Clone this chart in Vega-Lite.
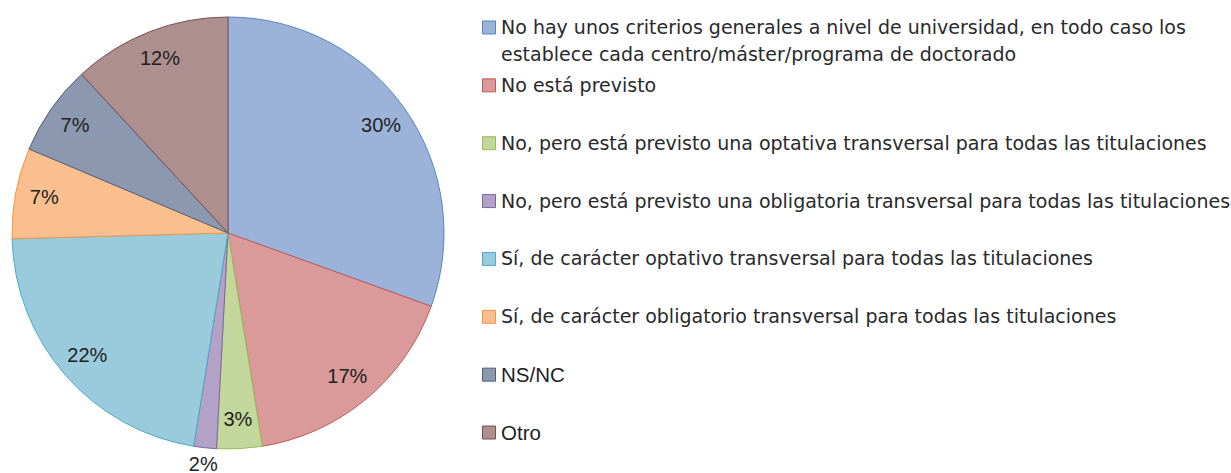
{
  "$schema": "https://vega.github.io/schema/vega-lite/v6.json",
  "padding": 0,
  "background": "white",
  "config": {"view": {"stroke": null}, "concat": {"spacing": 24}},
  "datasets": {
    "d": [
      {"rank": 1, "cat": "A", "n": 18, "pct": "30%", "label": ["No hay unos criterios generales a nivel de universidad, en todo caso los", "establece cada centro/máster/programa de doctorado"]},
      {"rank": 2, "cat": "B", "n": 10, "pct": "17%", "label": "No está previsto"},
      {"rank": 3, "cat": "C", "n": 2, "pct": "3%", "label": "No, pero está previsto una optativa transversal para todas las titulaciones"},
      {"rank": 4, "cat": "D", "n": 1, "pct": "2%", "label": "No, pero está previsto una obligatoria transversal para todas las titulaciones"},
      {"rank": 5, "cat": "E", "n": 13, "pct": "22%", "label": "Sí, de carácter optativo transversal para todas las titulaciones"},
      {"rank": 6, "cat": "F", "n": 4, "pct": "7%", "label": "Sí, de carácter obligatorio transversal para todas las titulaciones"},
      {"rank": 7, "cat": "G", "n": 4, "pct": "7%", "label": "NS/NC"},
      {"rank": 8, "cat": "H", "n": 7, "pct": "12%", "label": "Otro"}
    ]
  },
  "hconcat": [
    {
      "width": 456,
      "height": 466,
      "data": {"name": "d"},
      "encoding": {
        "theta": {"field": "n", "type": "quantitative", "stack": true},
        "order": {"field": "rank", "type": "ordinal"}
      },
      "layer": [
        {
          "mark": {"type": "arc", "radius": 216, "strokeWidth": 1},
          "encoding": {
            "fill": {"field": "cat", "type": "nominal", "legend": null,
              "scale": {"domain": ["A","B","C","D","E","F","G","H"], "range": ["#9cb3d9", "#d99a99", "#c3d69b", "#b3a2c7", "#9acbdd", "#fabf8f", "#8b98b0", "#ad8f8f"]}},
            "stroke": {"field": "cat", "type": "nominal", "legend": null,
              "scale": {"domain": ["A","B","C","D","E","F","G","H"], "range": ["#5a84bd", "#c05a58", "#9bbb59", "#8064a2", "#4bacc6", "#f79646", "#4e5f7a", "#7f4f4f"]}}
          }
        },
        {
          "mark": {"type": "text", "font": "Liberation Sans", "fontSize": 20, "fill": "#222222"},
          "encoding": {
            "text": {"field": "pct", "type": "nominal"},
            "radius": {"field": "n", "type": "quantitative", "scale": {"domain": [1, 2], "range": [233, 187], "clamp": true, "zero": false, "nice": false}}
          }
        }
      ]
    },
    {
      "width": 14,
      "height": 460,
      "data": {"name": "d"},
      "encoding": {
        "y": {"field": "rank", "type": "ordinal", "axis": null, "scale": {"type": "point", "padding": 0.475}}
      },
      "layer": [
        {
          "mark": {"type": "point", "shape": "square", "filled": true, "size": 169, "strokeWidth": 1, "opacity": 1},
          "encoding": {
            "fill": {"field": "cat", "type": "nominal", "legend": null,
              "scale": {"domain": ["A","B","C","D","E","F","G","H"], "range": ["#9cb3d9", "#d99a99", "#c3d69b", "#b3a2c7", "#9acbdd", "#fabf8f", "#8b98b0", "#ad8f8f"]}},
            "stroke": {"field": "cat", "type": "nominal", "legend": null,
              "scale": {"domain": ["A","B","C","D","E","F","G","H"], "range": ["#5a84bd", "#c05a58", "#9bbb59", "#8064a2", "#4bacc6", "#f79646", "#4e5f7a", "#7f4f4f"]}}
          }
        },
        {
          "transform": [{"filter": "datum.rank <= 6"}],
          "mark": {"type": "text", "align": "left", "baseline": "alphabetic", "dx": 12, "dy": 6.5, "font": "DejaVu Sans", "fontSize": 19, "lineHeight": 27, "fill": "#2a2a2a"},
          "encoding": {"text": {"field": "label", "type": "nominal"}}
        },
        {
          "transform": [{"filter": "datum.rank >= 7"}],
          "mark": {"type": "text", "align": "left", "baseline": "alphabetic", "dx": 12, "dy": 7, "font": "Liberation Sans", "fontSize": 20.5, "fill": "#222222"},
          "encoding": {"text": {"field": "label", "type": "nominal"}}
        }
      ]
    }
  ]
}
